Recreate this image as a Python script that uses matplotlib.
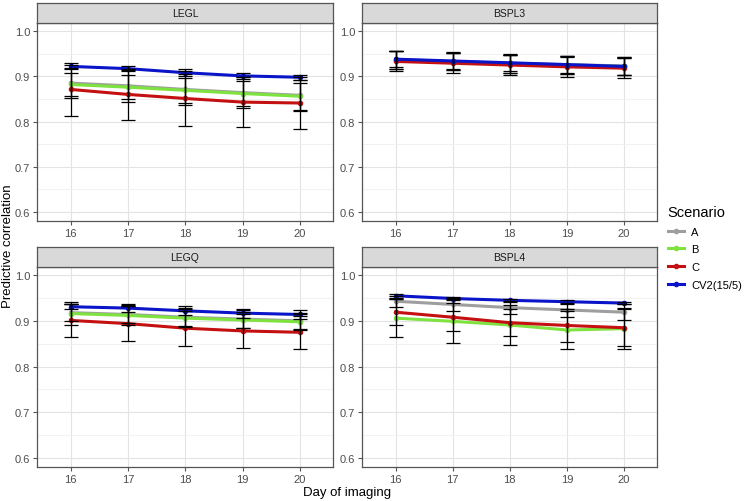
import numpy as np
import matplotlib.pyplot as plt
from matplotlib.lines import Line2D

plt.rcParams['font.family'] = ['Liberation Sans', 'DejaVu Sans']

days = [16, 17, 18, 19, 20]
scenarios = ['A', 'B', 'C', 'CV2(15/5)']
colors = ['#9e9e9e', '#7ee23f', '#c41010', '#0a14c8']
panels = ['LEGL', 'BSPL3', 'LEGQ', 'BSPL4']

# mean predictive correlation per panel, per scenario
means = {
    'LEGL': [[0.885, 0.879, 0.871, 0.864, 0.858],
             [0.882, 0.876, 0.869, 0.862, 0.856],
             [0.871, 0.860, 0.851, 0.843, 0.841],
             [0.922, 0.917, 0.908, 0.901, 0.898]],
    'BSPL3': [[0.937, 0.933, 0.929, 0.926, 0.923],
              [0.936, 0.932, 0.928, 0.925, 0.922],
              [0.933, 0.929, 0.925, 0.921, 0.918],
              [0.938, 0.934, 0.930, 0.926, 0.922]],
    'LEGQ': [[0.918, 0.914, 0.908, 0.904, 0.900],
             [0.916, 0.912, 0.906, 0.902, 0.898],
             [0.901, 0.894, 0.884, 0.878, 0.875],
             [0.931, 0.928, 0.922, 0.917, 0.914]],
    'BSPL4': [[0.943, 0.936, 0.929, 0.924, 0.919],
              [0.906, 0.899, 0.891, 0.880, 0.883],
              [0.919, 0.908, 0.896, 0.890, 0.885],
              [0.955, 0.949, 0.945, 0.942, 0.939]],
}

# standard deviation (error bar half-width)
sds = {
    'LEGL': [[0.032, 0.035, 0.035, 0.034, 0.034],
             [0.025, 0.026, 0.027, 0.028, 0.030],
             [0.058, 0.057, 0.060, 0.056, 0.058],
             [0.003, 0.006, 0.008, 0.006, 0.005]],
    'BSPL3': [[0.020, 0.020, 0.021, 0.020, 0.020],
              [0.019, 0.019, 0.020, 0.020, 0.020],
              [0.022, 0.022, 0.023, 0.022, 0.022],
              [0.018, 0.017, 0.018, 0.018, 0.019]],
    'LEGQ': [[0.018, 0.019, 0.020, 0.019, 0.018],
             [0.026, 0.022, 0.020, 0.018, 0.018],
             [0.037, 0.039, 0.038, 0.037, 0.036],
             [0.006, 0.008, 0.010, 0.010, 0.009]],
    'BSPL4': [[0.012, 0.014, 0.015, 0.016, 0.018],
              [0.042, 0.048, 0.043, 0.042, 0.045],
              [0.028, 0.031, 0.029, 0.036, 0.040],
              [0.004, 0.004, 0.003, 0.004, 0.003]],
}

W, H = 744, 502
fig = plt.figure(figsize=(W / 100, H / 100), dpi=100)

# axes boxes in pixels: left, top, right, bottom
boxes = {
    'LEGL': (37, 24, 333, 222),
    'BSPL3': (362, 24, 657, 222),
    'LEGQ': (37, 268, 333, 468),
    'BSPL4': (362, 268, 657, 468),
}
strip_h = 20

for name in panels:
    l, t, r, b = boxes[name]
    ax = fig.add_axes([l / W, 1 - b / H, (r - l) / W, (b - t) / H])
    ax.set_xlim(15.41, 20.58)
    ax.set_ylim(0.58, 1.018)
    ax.set_xticks(days)
    ax.set_yticks([0.6, 0.7, 0.8, 0.9, 1.0])
    ax.set_yticks([0.65, 0.75, 0.85, 0.95], minor=True)
    ax.grid(which='major', color='#e3e3e3', lw=0.8)
    ax.grid(which='minor', axis='y', color='#f0f0f0', lw=0.6)
    ax.set_axisbelow(True)
    for sp in ax.spines.values():
        sp.set_color('#555555')
        sp.set_linewidth(0.9)
    ax.tick_params(which='major', length=3, color='#555555', labelsize=8,
                   labelcolor='#4d4d4d', pad=2)
    ax.tick_params(which='minor', length=0)
    ax.yaxis.set_major_formatter(plt.FormatStrFormatter('%.1f'))

    for i, s in enumerate(scenarios):
        ax.plot(days, means[name][i], color=colors[i], lw=2.2,
                marker='o', ms=3, zorder=3)
    for i, s in enumerate(scenarios):
        ax.errorbar(days, means[name][i], yerr=sds[name][i], fmt='none',
                    ecolor='black', elinewidth=0.9, capsize=5, capthick=0.9,
                    zorder=4)

    # facet strip
    sax = fig.add_axes([l / W, 1 - t / H, (r - l) / W, strip_h / H])
    sax.set_facecolor('#d9d9d9')
    sax.set_xticks([])
    sax.set_yticks([])
    for sp in sax.spines.values():
        sp.set_color('#555555')
        sp.set_linewidth(0.9)
    sax.text(0.5, 0.5, name, ha='center', va='center', fontsize=7.5,
             color='#1a1a1a', transform=sax.transAxes)

fig.text(347 / W, 1 - 493 / H, 'Day of imaging', ha='center', va='center',
         fontsize=9.5)
fig.text(8 / W, 1 - 246 / H, 'Predictive correlation', ha='center',
         va='center', rotation=90, fontsize=9.5)

handles = [Line2D([0], [0], color=c, lw=2.2, marker='o', ms=3)
           for c in colors]
leg = fig.legend(handles, scenarios, title='Scenario', loc='upper left',
                 bbox_to_anchor=(660 / W, 1 - 198 / H), frameon=False,
                 fontsize=8, title_fontsize=10.5, handlelength=1.5,
                 labelspacing=0.7, handletextpad=0.6, borderpad=0.2)
leg._legend_box.align = 'left'

fig.savefig('out.png', dpi=100)
